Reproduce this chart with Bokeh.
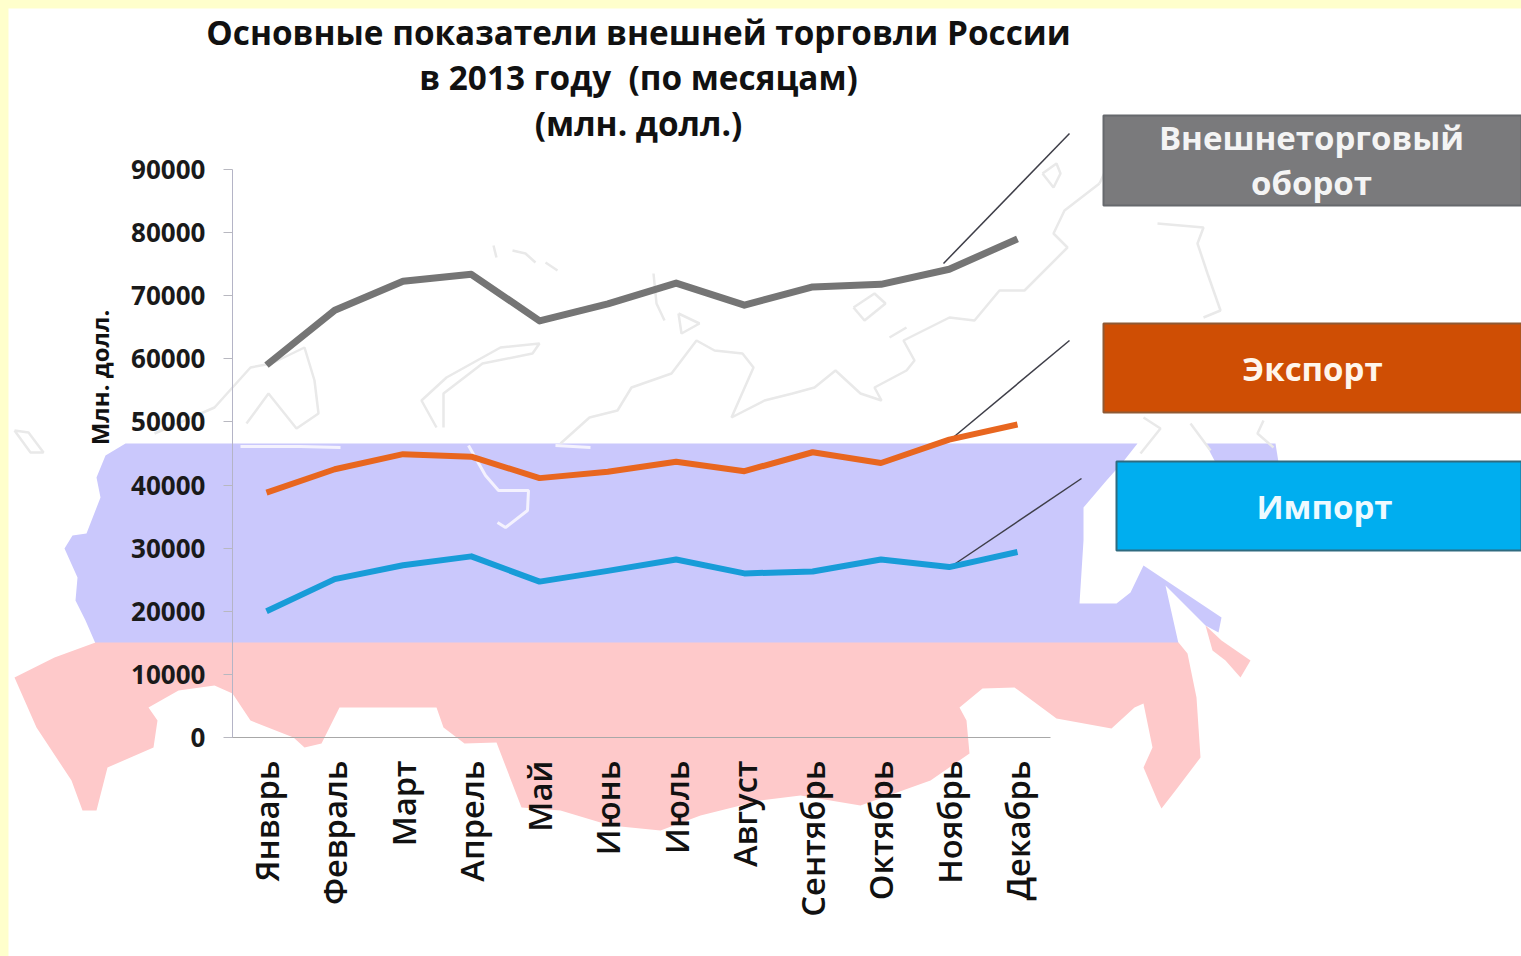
import math
from bokeh.plotting import figure
from bokeh.models import LinearAxis, FixedTicker, Range1d, Label
from bokeh.embed import file_html
from bokeh.resources import INLINE

# ---- data ----
months = ["Январь", "Февраль", "Март", "Апрель", "Май", "Июнь", "Июль", "Август",
          "Сентябрь", "Октябрь", "Ноябрь", "Декабрь"]
month_no = list(range(1, 13))
turnover = [59000, 67700, 72300, 73400, 66000, 68700, 72000, 68500, 71400, 71800, 74200, 79000]
export = [38800, 42500, 44900, 44500, 41100, 42100, 43700, 42200, 45200, 43500, 47200, 49600]
imports = [20000, 25100, 27300, 28700, 24700, 26400, 28200, 26000, 26300, 28200, 27000, 29400]
y_ticks = [0, 10000, 20000, 30000, 40000, 50000, 60000, 70000, 80000, 90000]
title_lines = ["Основные показатели внешней торговли России", "в 2013 году\u00a0 (по месяцам)", "(млн. долл.)"]
y_title = "Млн. долл."

# ---- page geometry: page pixels <-> data ----
STEP = (1017 - 266) / 11
PER_PX = 90000 / 568
def fx(px): return 1 + (px - 266) / STEP
def fy(py): return (737 - py) * PER_PX
def X(pts): return [fx(a) for a, b in pts]
def Y(pts): return [fy(b) for a, b in pts]

p = figure(width=1513, height=948, output_backend="svg", toolbar_location=None,
           x_axis_type=None, y_axis_type=None, min_border=0,
           x_range=Range1d(fx(8), fx(1521)), y_range=Range1d(fy(956), fy(8)))
p.grid.visible = False
p.outline_line_color = None
p.background_fill_color = "white"
p.border_fill_color = "white"

# ---- background map decoration ----
blue_shape = [(125,443),(1137,443),(1122,462),(1106,480),(1083,507),(1083,540),(1079,603),(1116,603),
              (1130,592),(1143,565),(1221,617),(1218,632),(1205,625),(1165,585),(1178,643),
              (95,643),(85,620),(75,600),(77,577),(64,548),(72,535),(86,533),(100,497),(96,477),(105,455)]
blue_far = [(1205,443),(1275,443),(1278,462),(1215,462)]
pink_shape = [(95,642),(1178,642),(1187,653),(1196,697),(1200,757),(1175,790),(1161,808),(1157,800),
              (1143,767),(1152,747),(1143,703),(1134,707),(1111,728),(1056,718),(1014,687),(982,688),
              (959,707),(966,720),(969,753),(930,780),(860,805),(800,795),(760,800),(700,815),(660,830),
              (610,825),(560,810),(521,807),(496,742),(464,743),(443,727),(436,707),(375,707),(339,707),
              (321,743),(304,747),(293,737),(250,720),(232,693),(214,685),(178,690),(148,707),(157,720),
              (153,747),(107,767),(96,810),(82,810),(71,780),(36,727),(14,677),(54,657)]
pink_tail = [(1205,625),(1221,640),(1250,660),(1240,677),(1225,660),(1212,650)]
p.patches([X(s) for s in (blue_shape, blue_far)], [Y(s) for s in (blue_shape, blue_far)],
          fill_color="#CAC8FC", line_color=None)
p.patches([X(s) for s in (pink_shape, pink_tail)], [Y(s) for s in (pink_shape, pink_tail)],
          fill_color="#FEC9CA", line_color=None)

white_cuts = [[(468,445),(485,475),(498,490),(528,490),(527,510),(505,527),(497,522)],
              [(240,446),(300,446),(340,447)], [(555,445),(590,447)]]
p.multi_line([X(s) for s in white_cuts], [Y(s) for s in white_cuts], line_color="#F4F2FE", line_width=3)

coast = [[(154,433),(214,407),(250,367),(271,363),(304,347),(314,380),(318,413),(296,428),(268,393),(246,423)],
         [(436,427),(421,400),(446,377),(500,347),(539,343),(532,353),(482,363),(443,393),(443,427)],
         [(14,430),(28,432),(43,452),(30,452),(14,430)],
         [(493,245),(496,257)], [(512,250),(525,253),(535,262)], [(545,262),(557,270)],
         [(653,273),(656,303),(664,320)], [(678,313),(699,323),(681,333),(678,313)],
         [(560,443),(589,417),(617,410),(631,387),(671,373),(696,340),(714,350),(742,353),(753,367),
          (731,417),(764,400),(792,393),(814,387),(835,370),(860,393),(881,400),(874,387),(906,370),
          (914,360),(903,340),(949,317),(974,320),(999,290),(1024,290),(1067,247),(1053,233),(1064,210),(1099,183)],
         [(853,307),(874,293),(885,303),(864,320),(853,307)], [(889,337),(906,327)],
         [(1042,173),(1056,163),(1060,173),(1053,187),(1042,173)],
         [(1157,223),(1203,227),(1197,243),(1207,273),(1220,310),(1203,317)],
         [(1143,417),(1160,428),(1140,453)], [(1190,423),(1210,450)], [(1263,420),(1257,433),(1273,447)],
         [(1099,183),(1105,170)]]
p.multi_line([X(s) for s in coast], [Y(s) for s in coast], line_color="#E9E9E9", line_width=2.5)

# ---- callouts + legend boxes ----
callouts = [[(943,263),(1069,133)], [(949,440),(1069,340)], [(955,563),(1081,478)]]
p.multi_line([X(s) for s in callouts], [Y(s) for s in callouts], line_color="#3E3E48", line_width=1.5)

boxes = [(1103,115,1521,205,"#7A7A7C","#66696D"), (1103,323,1521,412,"#CF4E04","#8F5A35"),
         (1116,461,1521,550,"#00AEEF","#2F6B80")]
for l, t, r, b, c, e in boxes:
    p.quad(left=[fx(l)], right=[fx(r)], top=[fy(t)], bottom=[fy(b)], fill_color=c, line_color=e, line_width=2)

# ---- series ----
p.line(month_no, turnover, line_color="#757575", line_width=7, line_join="round")
p.line(month_no, export, line_color="#E8661F", line_width=6, line_join="round")
p.line(month_no, imports, line_color="#189CD8", line_width=6, line_join="round")

# ---- axes ----
yax = LinearAxis(fixed_location=0.5, ticker=FixedTicker(ticks=y_ticks), bounds=(0, 90000))
yax.axis_line_color = "#B4B4C6"
yax.major_tick_line_color = "#B8B8C0"
yax.major_tick_out = 9
yax.major_tick_in = 0
yax.minor_tick_line_color = None
yax.major_label_standoff = 18
yax.major_label_text_font = "Open Sans"
yax.major_label_text_font_style = "bold"
yax.major_label_text_font_size = "26px"
yax.major_label_text_color = "#1A1A1A"
p.add_layout(yax, "left")

xax = LinearAxis(fixed_location=0, ticker=FixedTicker(ticks=month_no),
                 bounds=(fx(225), fx(1050)),
                 major_label_overrides={i: m for i, m in zip(month_no, months)})
xax.axis_line_color = "#A8A8A8"
xax.major_tick_line_color = None
xax.minor_tick_line_color = None
xax.major_label_orientation = math.pi / 2
xax.major_label_standoff = 17
xax.major_label_text_font = "Open Sans SemiBold"
xax.major_label_text_font_size = "32.7px"
xax.major_label_text_color = "#111111"
p.add_layout(xax, "below")

# ---- texts ----
def txt(px, py, s, size, color="#111111", style="bold", angle=0.0):
    p.add_layout(Label(x=fx(px), y=fy(py), text=s, text_font="Open Sans", text_font_size=size,
                       text_font_style=style, text_color=color, text_align="center",
                       text_baseline="middle", angle=angle))

for (py, line) in zip((31, 76, 122), title_lines):
    txt(638, py, line, "33.3px")
txt(99, 377, y_title, "24px", angle=1.5708)
txt(1311, 137, "Внешнеторговый", "33px", "#F4F4F4")
txt(1311, 182, "оборот", "33px", "#F4F4F4")
txt(1312, 368, "Экспорт", "33px", "#FFF6EC")
txt(1324, 506, "Импорт", "33px", "#EEFAFF")

TEMPLATE = """{% block preamble %}<style>
html{background:#FFFFCC !important;margin:0 !important;padding:0 !important;overflow:hidden;}
body{background:#FFFFCC !important;margin:0 !important;padding:8px 0 0 8px !important;box-sizing:border-box !important;width:1521px;height:956px;overflow:hidden;}
</style>{% endblock %}"""
open("out.html", "w").write(file_html(p, INLINE, template=TEMPLATE))
